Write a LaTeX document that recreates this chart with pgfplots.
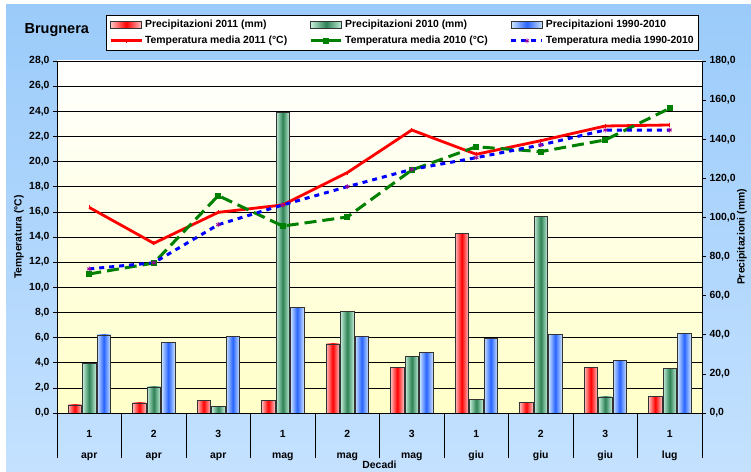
\documentclass[border=0pt]{standalone}
\usepackage{fontspec}
\setmainfont{Liberation Sans}
\usepackage{pgfplots}
\usepackage{pgfplotstable}
\pgfplotsset{compat=1.18}
\definecolor{bgtop}{RGB}{155,203,250}
\definecolor{bgbot}{RGB}{196,225,255}
\definecolor{plotbot}{RGB}{255,255,200}
\definecolor{rdark}{RGB}{255,0,0}
\definecolor{rlight}{RGB}{255,195,195}
\definecolor{gdark}{RGB}{46,130,85}
\definecolor{glight}{RGB}{195,238,218}
\definecolor{bdark}{RGB}{40,100,255}
\definecolor{blight}{RGB}{205,228,255}
\definecolor{tgreen}{RGB}{0,128,0}
\definecolor{tpurple}{RGB}{153,0,153}
\newcommand{\fs}{\bfseries\fontsize{10.4}{12}\selectfont}
\pgfplotsset{
  numfmt/.style={
    /pgf/number format/fixed, /pgf/number format/fixed zerofill,
    /pgf/number format/precision=1, /pgf/number format/use comma,
    /pgf/number format/1000 sep={}, /pgf/number format/assume math mode=true}
}
% precipitation (mm): x, 2011, 2010, 1990-2010
\pgfplotstableread{
x  p11   p10    pavg
0  4.2   25.4   39.9
1  5.2   13.4   36.1
2  6.6   3.4    39.1
3  6.4   153.9  54.0
4  35.4  51.9   39.1
5  23.5  28.9   31.1
6  91.7  6.8    38.1
7  5.4   100.7  40.1
8  23.5  8.3    26.9
9  8.6   22.8   40.9
}\prec
\begin{document}
\begin{tikzpicture}[x=1pt,y=1pt]
\useasboundingbox (0pt,0pt) rectangle (751pt,471pt);
\fill[top color=bgtop,bottom color=bgbot] (6pt,0pt) rectangle (751pt,466pt);
\node[anchor=west,font=\bfseries\fontsize{14.5}{16}\selectfont] at (21pt,441pt) {Brugnera};
% ---------- precipitation (bars, right axis)
\begin{axis}[
  at={(57pt,58pt)}, anchor=south west, scale only axis, width=645pt, height=352pt,
  xmin=-0.5, xmax=9.5, ymin=0, ymax=180,
  axis x line=none, axis y line*=right,
  axis line style={black, line width=0.7pt},
  axis background/.style={top color=white, bottom color=plotbot},
  ytick={0,20,...,180},
  extra y ticks={12.857142857,25.714285714,38.571428571,51.428571429,64.285714286,77.142857143,90,102.857142857,115.714285714,128.571428571,141.428571429,154.285714286,167.142857143},
  extra y tick labels={},
  extra y tick style={grid=major, major tick length=0pt},
  grid style={black, line width=0.6pt},
  tick align=outside, major tick length=4pt,
  tick style={black, line width=0.6pt},
  yticklabel style={font=\fs, numfmt},
  ylabel={Precipitazioni (mm)},
  ylabel style={at={(axis description cs:1.062,0.5)}, anchor=center, font=\fs},
  bar width=13.5pt,
]
\pgfplotsinvokeforeach{0,...,9}{
\addplot[ybar, bar shift=-14.5pt, draw=black!80, line width=0.5pt,
  left color=rlight, right color=rlight, middle color=rdark,
  x filter/.expression={abs(x-#1)<0.1 ? x : nan}]
  table[x=x, y=p11] {\prec};
\addplot[ybar, bar shift=0pt, draw=black!80, line width=0.5pt,
  left color=glight, right color=glight, middle color=gdark,
  x filter/.expression={abs(x-#1)<0.1 ? x : nan}]
  table[x=x, y=p10] {\prec};
\addplot[ybar, bar shift=14.5pt, draw=black!80, line width=0.5pt,
  left color=blight, right color=blight, middle color=bdark,
  x filter/.expression={abs(x-#1)<0.1 ? x : nan}]
  table[x=x, y=pavg] {\prec};
}
\end{axis}
% ---------- temperature (lines, left axis)
\begin{axis}[
  at={(57pt,58pt)}, anchor=south west, scale only axis, width=645pt, height=352pt,
  xmin=-0.5, xmax=9.5, ymin=0, ymax=28,
  axis line style={black, line width=0.7pt},
  ytick={0,2,...,28}, ytick pos=left, xtick pos=bottom,
  tick align=outside, major tick length=4pt,
  tick style={black, line width=0.6pt},
  yticklabel style={font=\fs, numfmt},
  xtick={0,...,9},
  xticklabels={{1\\apr},{2\\apr},{3\\apr},{1\\mag},{2\\mag},{3\\mag},{1\\giu},{2\\giu},{3\\giu},{1\\lug}},
  xticklabel style={font=\bfseries\fontsize{10.4}{21}\selectfont, align=center, yshift=-10pt},
  xtick style={draw=none},
  extra x ticks={-0.5,0.5,1.5,2.5,3.5,4.5,5.5,6.5,7.5,8.5,9.5},
  extra x tick labels={},
  extra x tick style={xtick style={draw=black, line width=0.6pt}, major tick length=45pt, tick align=outside},
  ylabel={Temperatura (°C)},
  ylabel style={at={(axis description cs:-0.0589,0.5)}, anchor=center, font=\fs},
  xlabel={Decadi},
  xlabel style={at={(axis description cs:0.5,0)}, yshift=-52pt, anchor=center, font=\fs},
  legend image code/.code={\draw[mark repeat=2,mark phase=2,#1] plot coordinates {(0pt,0pt) (15.5pt,0pt) (31pt,0pt)};},
  legend columns=3, legend cell align=left,
  legend style={at={(axis description cs:0.076,1.1307)}, anchor=north west,
    draw=black, line width=0.6pt, fill=white, font=\fs, inner sep=3pt,
    /tikz/every even column/.append style={column sep=20pt}, /tikz/row sep=3pt},
]
\addlegendimage{legend image code/.code={\draw[draw=black!80,line width=0.5pt,left color=rlight,right color=rlight,middle color=rdark] (0pt,-3.3pt) rectangle (31pt,3.3pt);}}
\addlegendentry{Precipitazioni 2011 (mm)}
\addlegendimage{legend image code/.code={\draw[draw=black!80,line width=0.5pt,left color=glight,right color=glight,middle color=gdark] (0pt,-3.3pt) rectangle (31pt,3.3pt);}}
\addlegendentry{Precipitazioni 2010 (mm)}
\addlegendimage{legend image code/.code={\draw[draw=black!80,line width=0.5pt,left color=blight,right color=blight,middle color=bdark] (0pt,-3.3pt) rectangle (31pt,3.3pt);}}
\addlegendentry{Precipitazioni 1990-2010}
\addplot[red, line width=2.8pt, mark=|, mark size=2pt, mark options={line width=1pt}]
  coordinates {(0,16.35) (1,13.5) (2,15.96) (3,16.55) (4,19.12) (5,22.51) (6,20.58) (7,21.66) (8,22.83) (9,22.91)};
\addlegendentry{Temperatura media 2011 (°C)}
\addplot[tgreen, line width=3pt, dash pattern=on 12pt off 6pt, mark=square*, mark size=1.5pt, mark options={solid}]
  coordinates {(0,11.06) (1,11.93) (2,17.29) (3,14.87) (4,15.59) (5,19.33) (6,21.18) (7,20.79) (8,21.72) (9,24.24)};
\addlegendentry{Temperatura media 2010 (°C)}
\addplot[blue, line width=3pt, dash pattern=on 5pt off 5pt, mark=asterisk, mark size=2.5pt, mark options={solid, tpurple, line width=0.8pt}]
  coordinates {(0,11.46) (1,11.95) (2,14.98) (3,16.55) (4,18.0) (5,19.38) (6,20.31) (7,21.32) (8,22.51) (9,22.51)};
\addlegendentry{Temperatura media 1990-2010}
\end{axis}
\end{tikzpicture}
\end{document}
